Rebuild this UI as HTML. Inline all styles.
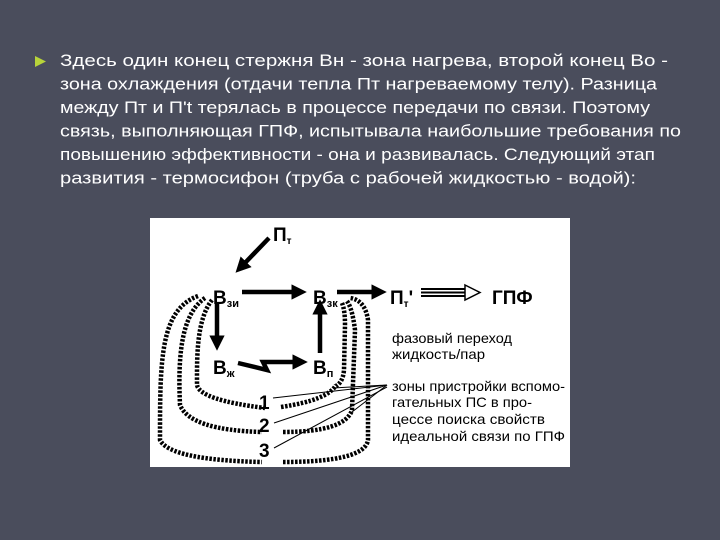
<!DOCTYPE html>
<html><head><meta charset="utf-8"><style>
html,body{margin:0;padding:0;background:#4a4d5c;}
svg{display:block}
</style></head><body>
<svg width="720" height="540" xmlns="http://www.w3.org/2000/svg">
<rect width="720" height="540" fill="#4a4d5c"/>
<polygon points="35,56 46,61.5 35,67" fill="#b8d43a"/>
<g font-family="Liberation Sans, sans-serif" font-size="17" fill="#ffffff">
<text x="60" y="66" textLength="608" lengthAdjust="spacingAndGlyphs">Здесь один конец стержня Вн - зона нагрева, второй конец Во -</text>
<text x="60" y="89.5" textLength="597" lengthAdjust="spacingAndGlyphs">зона охлаждения (отдачи тепла Пт нагреваемому телу). Разница</text>
<text x="60" y="113" textLength="590" lengthAdjust="spacingAndGlyphs">между Пт и П't терялась в процессе передачи по связи. Поэтому</text>
<text x="60" y="136.5" textLength="621" lengthAdjust="spacingAndGlyphs">связь, выполняющая ГПФ, испытывала наибольшие требования по</text>
<text x="60" y="160" textLength="595" lengthAdjust="spacingAndGlyphs">повышению эффективности - она и развивалась. Следующий этап</text>
<text x="60" y="183.5" textLength="576" lengthAdjust="spacingAndGlyphs">развития - термосифон (труба с рабочей жидкостью - водой):</text>
</g>
<rect x="150" y="218" width="420" height="249" fill="#ffffff"/>
<defs>
<marker id="ah" markerWidth="3.4" markerHeight="3.4" refX="1" refY="1.7" orient="auto" markerUnits="strokeWidth">
<polygon points="0,0 3.4,1.7 0,3.4" fill="#000"/></marker>
</defs>
<g stroke="#000" stroke-width="4.5" fill="none" marker-end="url(#ah)">
<line x1="269" y1="238" x2="243" y2="265"/>
<line x1="242" y1="292" x2="296" y2="292"/>
<line x1="337" y1="292" x2="376" y2="292"/>
<line x1="217" y1="304" x2="217" y2="340"/>
<polyline points="238,363 267,370 263,362 297,362"/>
<line x1="320" y1="353" x2="320" y2="310"/>
</g>
<g stroke="#000" stroke-width="2">
<line x1="421" y1="289" x2="466" y2="289"/>
<line x1="421" y1="292.5" x2="466" y2="292.5"/>
<line x1="421" y1="296" x2="466" y2="296"/>
</g>
<polygon points="465,285 480,292.5 465,300" fill="#fff" stroke="#000" stroke-width="1.5"/>
<g font-family="Liberation Sans, sans-serif" font-weight="bold" fill="#000" font-size="19">
<text x="273" y="241">П<tspan font-size="10" dy="3">т</tspan></text>
<text x="213" y="304">В<tspan font-size="11" dy="3">зи</tspan></text>
<text x="313" y="304">В<tspan font-size="11" dy="3">зк</tspan></text>
<text x="390" y="304">П<tspan font-size="10" dy="3">т</tspan><tspan dy="-3">'</tspan></text>
<text x="492" y="304">ГПФ</text>
<text x="213" y="374">В<tspan font-size="11" dy="3">ж</tspan></text>
<text x="313" y="374">В<tspan font-size="11" dy="3">п</tspan></text>
<text x="259" y="409">1</text>
<text x="259" y="432">2</text>
<text x="259" y="457">3</text>
</g>
<g font-family="Liberation Sans, sans-serif" fill="#000" font-size="14">
<text x="392" y="343" textLength="120" lengthAdjust="spacingAndGlyphs">фазовый переход</text>
<text x="392" y="359" textLength="93" lengthAdjust="spacingAndGlyphs">жидкость/пар</text>
<text x="392" y="391" textLength="173" lengthAdjust="spacingAndGlyphs">зоны пристройки вспомо-</text>
<text x="392" y="407" textLength="140" lengthAdjust="spacingAndGlyphs">гательных ПС в про-</text>
<text x="392" y="424" textLength="153" lengthAdjust="spacingAndGlyphs">цессе поиска свойств</text>
<text x="392" y="441" textLength="173" lengthAdjust="spacingAndGlyphs">идеальной связи по ГПФ</text>
</g>
<g stroke="#000" stroke-width="1">
<line x1="387" y1="385" x2="273" y2="398"/>
<line x1="387" y1="385" x2="333" y2="388"/>
<line x1="387" y1="385" x2="274" y2="423"/>
<line x1="387" y1="385" x2="352" y2="412"/>
<line x1="387" y1="387" x2="274" y2="448"/>
</g>
<g stroke="#000" stroke-width="4.5" fill="none" stroke-dasharray="2.5 1.5">
<path d="M212,300 C196,320 197,360 197,385 Q200,400 265,408"/>
<path d="M281,407 Q328,400 336,385"/>
<path d="M342,303 Q345,310 345,325 L344,370 Q343,382 336,386"/>
<path d="M205,298 C180,315 178,360 180,405 Q190,430 262,432"/>
<path d="M283,432 Q345,432 352,410 L355,330 Q352,306 346,300"/>
<path d="M198,296 C160,310 160,360 160,440 Q170,460 262,462"/>
<path d="M283,462 Q365,462 368,440 L368,320 Q365,300 350,298"/>
</g>
</svg>
</body></html>
